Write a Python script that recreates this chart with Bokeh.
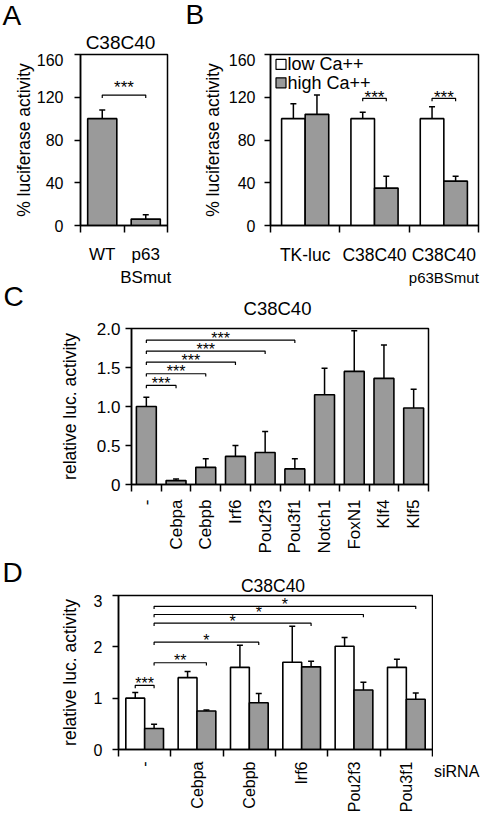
import math
from bokeh.plotting import figure
from bokeh.models import Range1d, FixedTicker, Whisker, TeeHead, ColumnDataSource, PrintfTickFormatter, Div
from bokeh.layouts import row
from bokeh.embed import file_html
from bokeh.resources import INLINE
from bokeh.core.properties import value

FONT = "Liberation Sans"
GRAY = "#9a9a9a"

# ---------------- Panel A data
a_letter = "A"
a_title = "C38C40"
a_cats = ["WT", "p63"]
a_cats_line2 = ["", "BSmut"]
a_vals = [100, 6]
a_errs = [8, 4]
a_yticks = [0, 40, 80, 120, 160]
a_ylabel = "% luciferase activity"
a_sig_from = [0]
a_sig_to = [1]
a_sig_y = [122]
a_sig_text = ["***"]

# ---------------- Panel B data
b_letter = "B"
b_cats = ["TK-luc", "C38C40", "C38C40"]
b_cats_line2 = ["", "", "p63BSmut"]
b_series = ["low Ca++", "high Ca++"]
b_low = [100, 100, 100]
b_low_err = [14, 6, 11]
b_high = [104, 35, 41.5]
b_high_err = [18, 11, 4.5]
b_yticks = [0, 40, 80, 120, 160]
b_ylabel = "% luciferase activity"
b_sig_cat = [1, 2]
b_sig_y = [119, 119]
b_sig_text = ["***", "***"]

# ---------------- Panel C data
c_letter = "C"
c_title = "C38C40"
c_cats = ["-", "Cebpa", "Cebpb", "Irf6", "Pou2f3", "Pou3f1", "Notch1", "FoxN1", "Klf4", "Klf5"]
c_vals = [1.0, 0.05, 0.22, 0.36, 0.41, 0.20, 1.15, 1.45, 1.36, 0.98]
c_errs = [0.12, 0.02, 0.11, 0.14, 0.27, 0.13, 0.34, 0.52, 0.43, 0.24]
c_yticks = [0, 0.5, 1.0, 1.5, 2.0]
c_ylabel = "relative luc. activity"
c_sig_from = [0, 0, 0, 0, 0]
c_sig_to = [1, 2, 3, 4, 5]
c_sig_y = [1.27, 1.42, 1.57, 1.71, 1.85]
c_sig_text = ["***", "***", "***", "***", "***"]

# ---------------- Panel D data
d_letter = "D"
d_title = "C38C40"
d_cats = ["-", "Cebpa", "Cebpb", "Irf6", "Pou2f3", "Pou3f1"]
d_white = [1.0, 1.40, 1.60, 1.70, 2.01, 1.60]
d_white_err = [0.11, 0.12, 0.43, 0.70, 0.17, 0.16]
d_gray = [0.41, 0.75, 0.91, 1.61, 1.16, 0.98]
d_gray_err = [0.08, 0.02, 0.18, 0.11, 0.15, 0.12]
d_yticks = [0, 1, 2, 3]
d_ylabel = "relative luc. activity"
d_xname = "siRNA"
d_sig_from_cat = [0, 0, 0, 0, 0, 0]
d_sig_from_ser = [0, 1, 1, 1, 1, 1]
d_sig_to_cat = [0, 1, 2, 3, 4, 5]
d_sig_to_ser = [1, 1, 1, 1, 1, 1]
d_sig_y = [1.25, 1.69, 2.09, 2.46, 2.63, 2.79]
d_sig_text = ["***", "**", "*", "*", "*", "*"]


def make_panel(w, h, bl, br, bt, bb, xmax, ymax):
    p = figure(width=w, height=h, x_range=Range1d(0, xmax), y_range=Range1d(0, ymax),
               min_border_left=bl, min_border_right=br, min_border_top=bt, min_border_bottom=bb,
               output_backend="svg", toolbar_location=None, title=None)
    p.background_fill_color = "white"
    p.border_fill_color = "white"
    p.outline_line_color = "black"
    p.outline_line_width = 1.5
    p.grid.visible = False
    return p, ymax / (h - bt - bb)


def strip(w, h):
    s = figure(width=w, height=h, x_range=Range1d(0, w), y_range=Range1d(h, 0),
               x_axis_location=None, y_axis_location=None, min_border=0,
               min_border_left=0, min_border_right=0, min_border_top=0, min_border_bottom=0,
               output_backend="svg", toolbar_location=None, title=None)
    s.outline_line_color = None
    s.background_fill_color = "white"
    s.border_fill_color = "white"
    s.grid.visible = False
    return s


def put(s, xs, ys, texts, size, align="left"):
    s.text(x=xs, y=ys, text=texts, text_font=value(FONT), text_font_size=value(size),
           text_align=align, text_baseline="middle", text_color="black")


def style_axes(p, labels, yticks, ylabel, tick_standoff, ylab_standoff, y_font, x_font, x_orient,
               x_standoff, yfmt=None, y_over=None):
    ya = p.yaxis[0]
    ya.ticker = FixedTicker(ticks=yticks)
    if yfmt:
        ya.formatter = PrintfTickFormatter(format=yfmt)
    if y_over:
        ya.major_label_overrides = y_over
    ya.axis_line_width = 1.5
    ya.axis_line_color = "black"
    ya.major_tick_line_width = 1.5
    ya.major_tick_line_color = "black"
    ya.major_tick_out = 6
    ya.major_tick_in = 0
    ya.minor_tick_line_color = None
    ya.major_label_text_font = FONT
    ya.major_label_text_font_size = y_font
    ya.major_label_text_color = "black"
    ya.major_label_standoff = tick_standoff
    ya.axis_label = ylabel
    ya.axis_label_text_font = FONT
    ya.axis_label_text_font_size = "17.5px"
    ya.axis_label_text_font_style = "normal"
    ya.axis_label_text_color = "black"
    ya.axis_label_standoff = ylab_standoff
    xa = p.xaxis[0]
    n = len(labels)
    centers = [i + 0.5 for i in range(n)]
    xa.ticker = FixedTicker(ticks=centers, minor_ticks=list(range(n + 1)))
    xa.major_label_overrides = {c: lab for c, lab in zip(centers, labels)}
    xa.major_tick_line_color = None
    xa.major_tick_out = 0
    xa.major_tick_in = 0
    xa.minor_tick_out = 7
    xa.minor_tick_in = 0
    xa.minor_tick_line_width = 1.5
    xa.minor_tick_line_color = "black"
    xa.axis_line_width = 1.5
    xa.axis_line_color = "black"
    xa.major_label_text_font = FONT
    xa.major_label_text_font_size = x_font
    xa.major_label_text_color = "black"
    xa.major_label_orientation = x_orient
    xa.major_label_standoff = x_standoff


def add_bars(p, xs, vals, errs, width, color):
    src = ColumnDataSource(dict(x=xs, top=vals, up=[v + e for v, e in zip(vals, errs)]))
    p.vbar(x="x", top="top", width=width, source=src, fill_color=color,
           line_color="black", line_width=1.6)
    p.add_layout(Whisker(source=src, base="x", lower="top", upper="up", dimension="height",
                         line_color="black", line_width=1.5, lower_head=None,
                         upper_head=TeeHead(size=6, line_width=1.5, line_color="black")))


def add_sig(p, x0s, x1s, ys, texts, tick, font, yoff):
    xs = [[a, a, b, b] for a, b in zip(x0s, x1s)]
    yy = [[y - tick, y, y, y - tick] for y in ys]
    p.multi_line(xs=xs, ys=yy, line_color="black", line_width=1.2)
    mids = [(a + b) / 2 for a, b in zip(x0s, x1s)]
    p.text(x=mids, y=ys, text=texts, text_align="center", text_baseline="middle",
           y_offset=yoff, text_font=value(FONT), text_font_size=value(font), text_color="black")


W = 480
# ---- geometry in page pixels (content box is 480 x 815)
S1_H = 53
ROW1_H, R1_T, R1_B = 214, 1, 32
A_W, A_BL, A_BR = 170, 80, 3
B_W, B_BL, B_BR = 310, 100, 2
S2_H = 51
C_H, C_BL, C_BR, C_T, C_B = 238, 131, 52, 10, 64
S4_H = 38
D_W, D_H, D_BL, D_BR, D_T, D_B = 433, 221, 118, 1, 1, 56

# ================= strip 1 : letters A, B and title of A
s1 = strip(W, S1_H)
put(s1, [2], [15], [a_letter], "28px")
put(s1, [A_W + 15], [14], [b_letter], "28px")
put(s1, [120], [42], [a_title], "19px", align="center")

# ================= Panel A
pA, uA = make_panel(A_W, ROW1_H, A_BL, A_BR, R1_T, R1_B, len(a_cats), 160)
style_axes(pA, a_cats, a_yticks, a_ylabel, 11, 0, "16px", "17px", "horizontal", 12)
xa_pos = [i + 0.5 for i in range(len(a_cats))]
add_bars(pA, xa_pos, a_vals, a_errs, 0.67, GRAY)
add_sig(pA, [xa_pos[i] for i in a_sig_from], [xa_pos[i] for i in a_sig_to], a_sig_y, a_sig_text,
        3 * uA, "17px", -8)

# ================= Panel B
pB, uB = make_panel(B_W, ROW1_H, B_BL, B_BR, R1_T, R1_B, len(b_cats), 160)
style_axes(pB, b_cats, b_yticks, b_ylabel, 9, 3, "16px", "17.5px", "horizontal", 12)
off = 0.17
xb_low = [i + 0.5 - off for i in range(len(b_cats))]
xb_high = [i + 0.5 + off for i in range(len(b_cats))]
add_bars(pB, xb_low, b_low, b_low_err, 0.34, "white")
add_bars(pB, xb_high, b_high, b_high_err, 0.34, GRAY)
add_sig(pB, [xb_low[i] for i in b_sig_cat], [xb_high[i] for i in b_sig_cat], b_sig_y, b_sig_text,
        3 * uB, "17px", -1)
# legend (inside the frame, top-left)
bfw = B_W - B_BL - B_BR
lx = lambda px: px * len(b_cats) / bfw
ly = lambda py: 160 - py * uB
pB.scatter(x=[lx(10.5), lx(10.5)], y=[ly(10.5), ly(30)], marker="square", size=10,
           fill_color=["white", GRAY], line_color="black", line_width=1.2)
pB.text(x=[lx(17), lx(17)], y=[ly(10.5), ly(30)], text=b_series, text_align="left",
        text_baseline="middle", text_font=value(FONT), text_font_size=value("18px"), text_color="black")

# ================= strip 2 : second lines of A / B category labels, letter C and title of C
s2 = strip(W, S2_H)
a_fw = A_W - A_BL - A_BR
b_fw = B_W - B_BL - B_BR
put(s2, [A_BL + (i + 0.5) * a_fw / len(a_cats) for i, t in enumerate(a_cats_line2) if t],
    [10] * sum(1 for t in a_cats_line2 if t), [t for t in a_cats_line2 if t], "17px", align="center")
put(s2, [A_W + B_BL + (i + 0.5) * b_fw / len(b_cats) for i, t in enumerate(b_cats_line2) if t],
    [10] * sum(1 for t in b_cats_line2 if t), [t for t in b_cats_line2 if t], "15px", align="center")
put(s2, [3], [29], [c_letter], "28px")
put(s2, [277], [40.5], [c_title], "18.5px", align="center")

# ================= Panel C
pC, uC = make_panel(W, C_H, C_BL, C_BR, C_T, C_B, len(c_cats), 2.0)
style_axes(pC, c_cats, c_yticks, c_ylabel, 5, 14, "17px", "17px", math.pi / 2, 8,
           yfmt="%.1f", y_over={0: "0"})
xc_pos = [i + 0.5 for i in range(len(c_cats))]
add_bars(pC, xc_pos, c_vals, c_errs, 0.67, GRAY)
add_sig(pC, [xc_pos[i] for i in c_sig_from], [xc_pos[i] for i in c_sig_to], c_sig_y, c_sig_text,
        3 * uC, "16px", -2)

# ================= strip 4 : letter D and title
s4 = strip(W, S4_H)
put(s4, [2], [15.5], [d_letter], "28px")
put(s4, [272.5], [29], [d_title], "17.5px", align="center")

# ================= Panel D
pD, uD = make_panel(D_W, D_H, D_BL, D_BR, D_T, D_B, len(d_cats), 3)
style_axes(pD, d_cats, d_yticks, d_ylabel, 10, 11, "16px", "16px", math.pi / 2, 5)
doff = 0.18
xd_ser = [[i + 0.5 - doff for i in range(len(d_cats))], [i + 0.5 + doff for i in range(len(d_cats))]]
add_bars(pD, xd_ser[0], d_white, d_white_err, 0.36, "white")
add_bars(pD, xd_ser[1], d_gray, d_gray_err, 0.36, GRAY)
add_sig(pD, [xd_ser[s][c] for s, c in zip(d_sig_from_ser, d_sig_from_cat)],
        [xd_ser[s][c] for s, c in zip(d_sig_to_ser, d_sig_to_cat)], d_sig_y, d_sig_text,
        3 * uD, "16px", -2)

# ================= "siRNA" to the right of D's x axis
s5 = Div(text=('<div style="position:relative;width:%dpx;height:%dpx;">'
               '<span style="position:absolute;left:1px;top:%dpx;font-family:\'Liberation Sans\';'
               'font-size:16px;line-height:1;color:black;white-space:nowrap;">%s</span></div>')
              % (W - D_W, D_H, D_H - D_B + 13 - 8, d_xname),
         width=W - D_W, height=D_H, margin=0)

roots = [s1, row(pA, pB), s2, pC, s4, row(pD, s5)]
open("out.html", "w").write(file_html(roots, INLINE))
